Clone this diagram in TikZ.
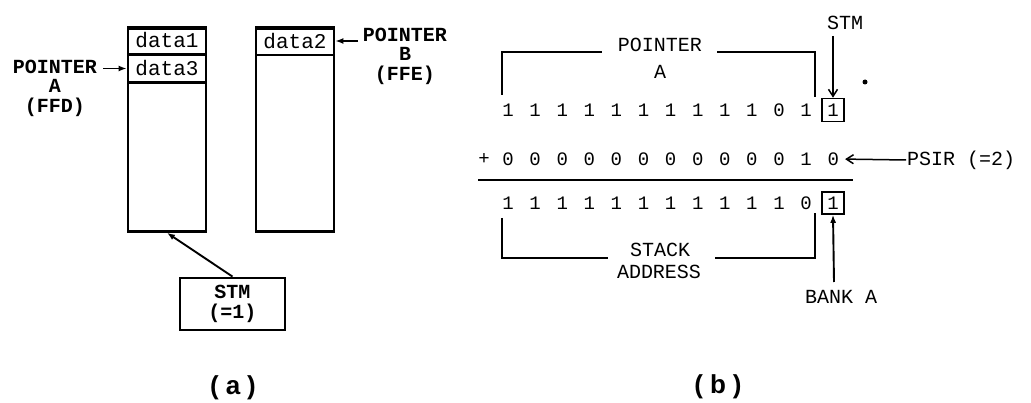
\documentclass[tikz,border=0pt]{standalone}
\usepackage{fontspec}
\setmainfont{Liberation Serif}
\setmonofont{Liberation Mono}
\setsansfont{Liberation Sans}
\usetikzlibrary{arrows.meta}
\begin{document}
\begin{tikzpicture}[x=1pt,y=-1pt,
  mono/.style={font=\fontsize{20}{20}\selectfont\ttfamily, inner sep=1pt},
  monob/.style={font=\fontsize{20}{19.5}\selectfont\ttfamily\bfseries, inner sep=1pt},
  dig/.style={font=\fontsize{19}{19}\selectfont\ttfamily, inner sep=0pt},
  cell/.style={draw, line width=2.8pt, minimum width=78pt, inner sep=0pt, font=\fontsize{21}{21}\selectfont\ttfamily},
  col/.style={draw, line width=2.8pt, minimum width=78pt, minimum height=203pt, anchor=north, inner sep=0pt},
  figcap/.style={font=\fontsize{26}{26}\selectfont\sffamily\bfseries},
  arr/.style={-{Latex[length=8pt,width=6pt]}, line width=1.9pt},
  barb/.style={-{Straight Barb[length=7pt,width=9pt]}, line width=1.5pt},
  brk/.style={line width=1.7pt}]
\useasboundingbox (0,0) rectangle (1031,403);

% ---------- (a) ----------
\node[col] (colA) at (167,27) {};
\node[col] (colB) at (295,27) {};
\node[cell, minimum height=27pt] (d1) at (167,40.5) {data1};
\node[cell, minimum height=28pt] (d3) at (167,68.5) {data3};
\node[cell, minimum height=28pt] (d2) at (295,41) {data2};

\node[monob, align=center] (pA) at (55,88) {POINTER\\A\\(FFD)};
\coordinate (pAe) at (103,68.5);
\draw[arr] (pAe) -- (d3.west);

\node[monob, align=center] (pB) at (405,56) {POINTER\\B\\(FFE)};
\coordinate (pBe) at (358,41);
\draw[arr] (pBe) -- (d2.east);

\node[draw, line width=2.8pt, minimum width=105pt, minimum height=52pt, monob, align=center] (stmA) at (232.5,304) {STM\\(=1)};
\draw[arr] (stmA.north) -- (colA.south);

\node[figcap] (capa) at (233,388) {(\hspace{7pt}a\hspace{7pt})};

% ---------- (b) ----------
\foreach \d [count=\k from 0] in {1,1,1,1,1,1,1,1,1,1,0,1}
  \node[dig] (ra\k) at ({508+27.1*\k},110) {\d};
\node[dig, draw, line width=1.6pt, minimum width=22pt, minimum height=23pt] (ra12) at (833,110) {1};

\node[dig] (plus) at (484,159) {+};
\foreach \d [count=\k from 0] in {0,0,0,0,0,0,0,0,0,0,0,1,0}
  \node[dig] (rb\k) at ({508+27.1*\k},159) {\d};

\coordinate (sumL) at (478,180);
\coordinate (sumR) at (853,180);
\draw[line width=2pt] (sumL) -- (sumR);

\foreach \d [count=\k from 0] in {1,1,1,1,1,1,1,1,1,1,1,0}
  \node[dig] (rc\k) at ({508+27.1*\k},203) {\d};
\node[dig, draw, line width=1.6pt, minimum width=22pt, minimum height=22pt] (rc12) at (833,203) {1};

% top bracket
\node[mono] (ptrA) at (660,45) {POINTER};
\node[mono] (ptrAl) at (660,72) {A};
\draw[brk] (502,95) -- (502,52) -- (602,52);
\draw[brk] (717,52) -- (815,52) -- (815,97);

% STM arrow
\node[mono] (stmb) at (845,23) {STM};
\coordinate (stmbt) at (833,36);
\draw[barb] (stmbt) -- (ra12.north);
\fill (865,82) circle (2.5);

% PSIR
\node[mono, anchor=west] (psir) at (906,160) {PSIR (=2)};
\draw[barb, shorten >=6pt] (psir.west) -- (rb12.east);

% bottom bracket
\node[mono] (stk) at (660,250) {STACK};
\node[mono] (adr) at (659,272) {ADDRESS};
\draw[brk] (502,218) -- (502,258) -- (608,258);
\draw[brk] (715,258) -- (815,258) -- (815,213);

% BANK A
\node[mono] (bank) at (841,297) {BANK A};
\coordinate (bankt) at (834,282);
\draw[arr] (bankt) -- (rc12.south);

\node[figcap] (capb) at (718,387) {(\hspace{7pt}b\hspace{7pt})};
\end{tikzpicture}
\end{document}
